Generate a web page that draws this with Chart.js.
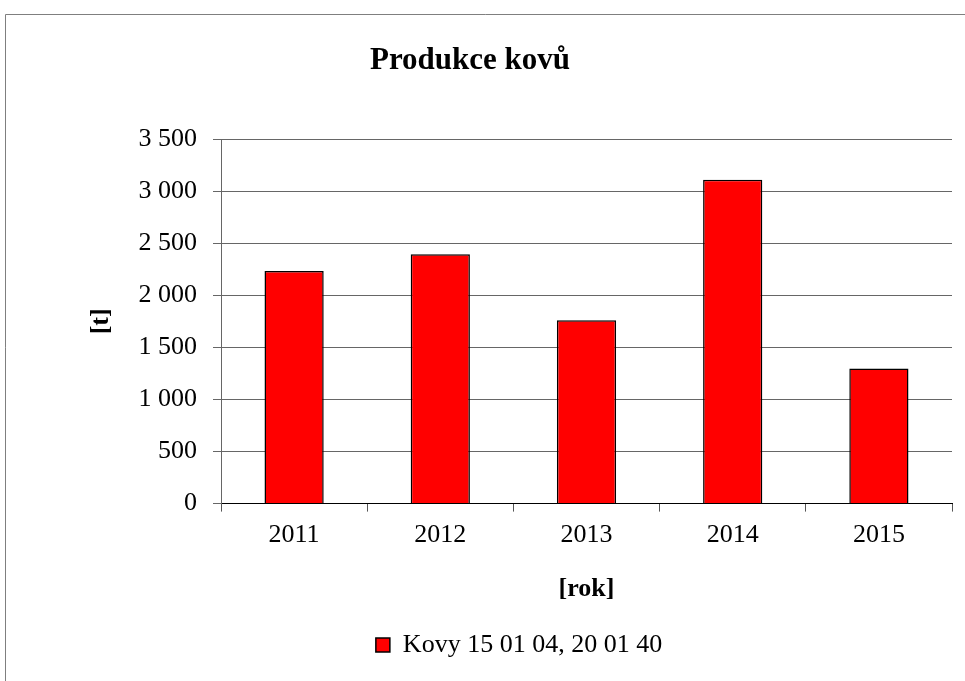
<!DOCTYPE html>
<html>
<head>
<meta charset="utf-8">
<script src="https://cdn.jsdelivr.net/npm/chart.js@4.4.1/dist/chart.umd.min.js"></script>
<style>
  html, body { margin: 0; padding: 0; background: #fff; }
  #box { width: 965px; height: 681px; }
</style>
</head>
<body>
<div id="box"><canvas id="chartKovy"></canvas></div>
<script>
var roky = ['2011', '2012', '2013', '2014', '2015'];
var kovy = [2234, 2394, 1760, 3109, 1298];
var nazevGrafu = 'Produkce kovů';
var nazevRady = 'Kovy 15 01 04, 20 01 40';

var pismo = "'Liberation Serif', 'Times New Roman', serif";

// ramecek a nadpis kreslime sami, nadpis neni uprostred plochy
var ramecek = {
    id: 'ramecek',
    beforeDraw: function (chart) {
        var ctx = chart.ctx;
        ctx.save();
        ctx.strokeStyle = '#7f7f7f';
        ctx.lineWidth = 1;
        ctx.beginPath();
        ctx.moveTo(5.5, 681);
        ctx.lineTo(5.5, 14.5);
        ctx.lineTo(965, 14.5);
        ctx.stroke();
        ctx.fillStyle = '#000';
        ctx.font = 'bold 31px ' + pismo;
        ctx.textAlign = 'center';
        ctx.textBaseline = 'alphabetic';
        ctx.fillText(nazevGrafu, 470, 69);
        ctx.restore();
    }
};

var ctx = document.getElementById('chartKovy').getContext('2d');
var chart = new Chart(ctx, {
    type: 'bar',
    data: {
        labels: roky,
        datasets: [{
            label: nazevRady,
            data: kovy,
            backgroundColor: '#ff0000',
            borderColor: '#000000',
            borderWidth: 1.5,
            barPercentage: 0.405,
            categoryPercentage: 1.0
        }]
    },
    options: {
        responsive: true,
        maintainAspectRatio: false,
        animation: false,
        layout: {
            padding: { left: 86, right: 13, top: 139, bottom: 13 }
        },
        plugins: {
            title: { display: false },
            tooltip: { enabled: false },
            legend: {
                position: 'bottom',
                labels: {
                    color: '#000',
                    font: { family: pismo, size: 26, lineHeight: 1.2 },
                    boxWidth: 14,
                    boxHeight: 14,
                    padding: 10
                }
            }
        },
        scales: {
            x: {
                offset: true,
                grid: {
                    display: true,
                    offset: true,
                    drawOnChartArea: false,
                    drawTicks: true,
                    tickLength: 8,
                    color: '#555'
                },
                border: { display: true, color: '#000', width: 1 },
                ticks: {
                    color: '#000',
                    padding: 8,
                    font: { family: pismo, size: 26, lineHeight: 1.2 }
                },
                title: {
                    display: true,
                    text: '[rok]',
                    color: '#000',
                    font: { family: pismo, size: 26, weight: 'bold', lineHeight: 1.2 },
                    padding: { top: 15, bottom: 17 }
                }
            },
            y: {
                min: 0,
                max: 3500,
                afterFit: function (scale) { scale.width = 135; },
                grid: {
                    color: '#666',
                    lineWidth: 1,
                    drawTicks: true,
                    tickLength: 8
                },
                border: { display: true, color: '#666', width: 1 },
                ticks: {
                    stepSize: 500,
                    color: '#000',
                    padding: 16,
                    font: { family: pismo, size: 26, lineHeight: 1.2 },
                    callback: function (v) {
                        return String(v).replace(/\B(?=(\d{3})+(?!\d))/g, ' ');
                    }
                },
                title: {
                    display: true,
                    text: '[t]',
                    color: '#000',
                    font: { family: pismo, size: 26, weight: 'bold', lineHeight: 1.2 },
                    padding: 0
                }
            }
        }
    },
    plugins: [ramecek]
});
</script>
</body>
</html>
